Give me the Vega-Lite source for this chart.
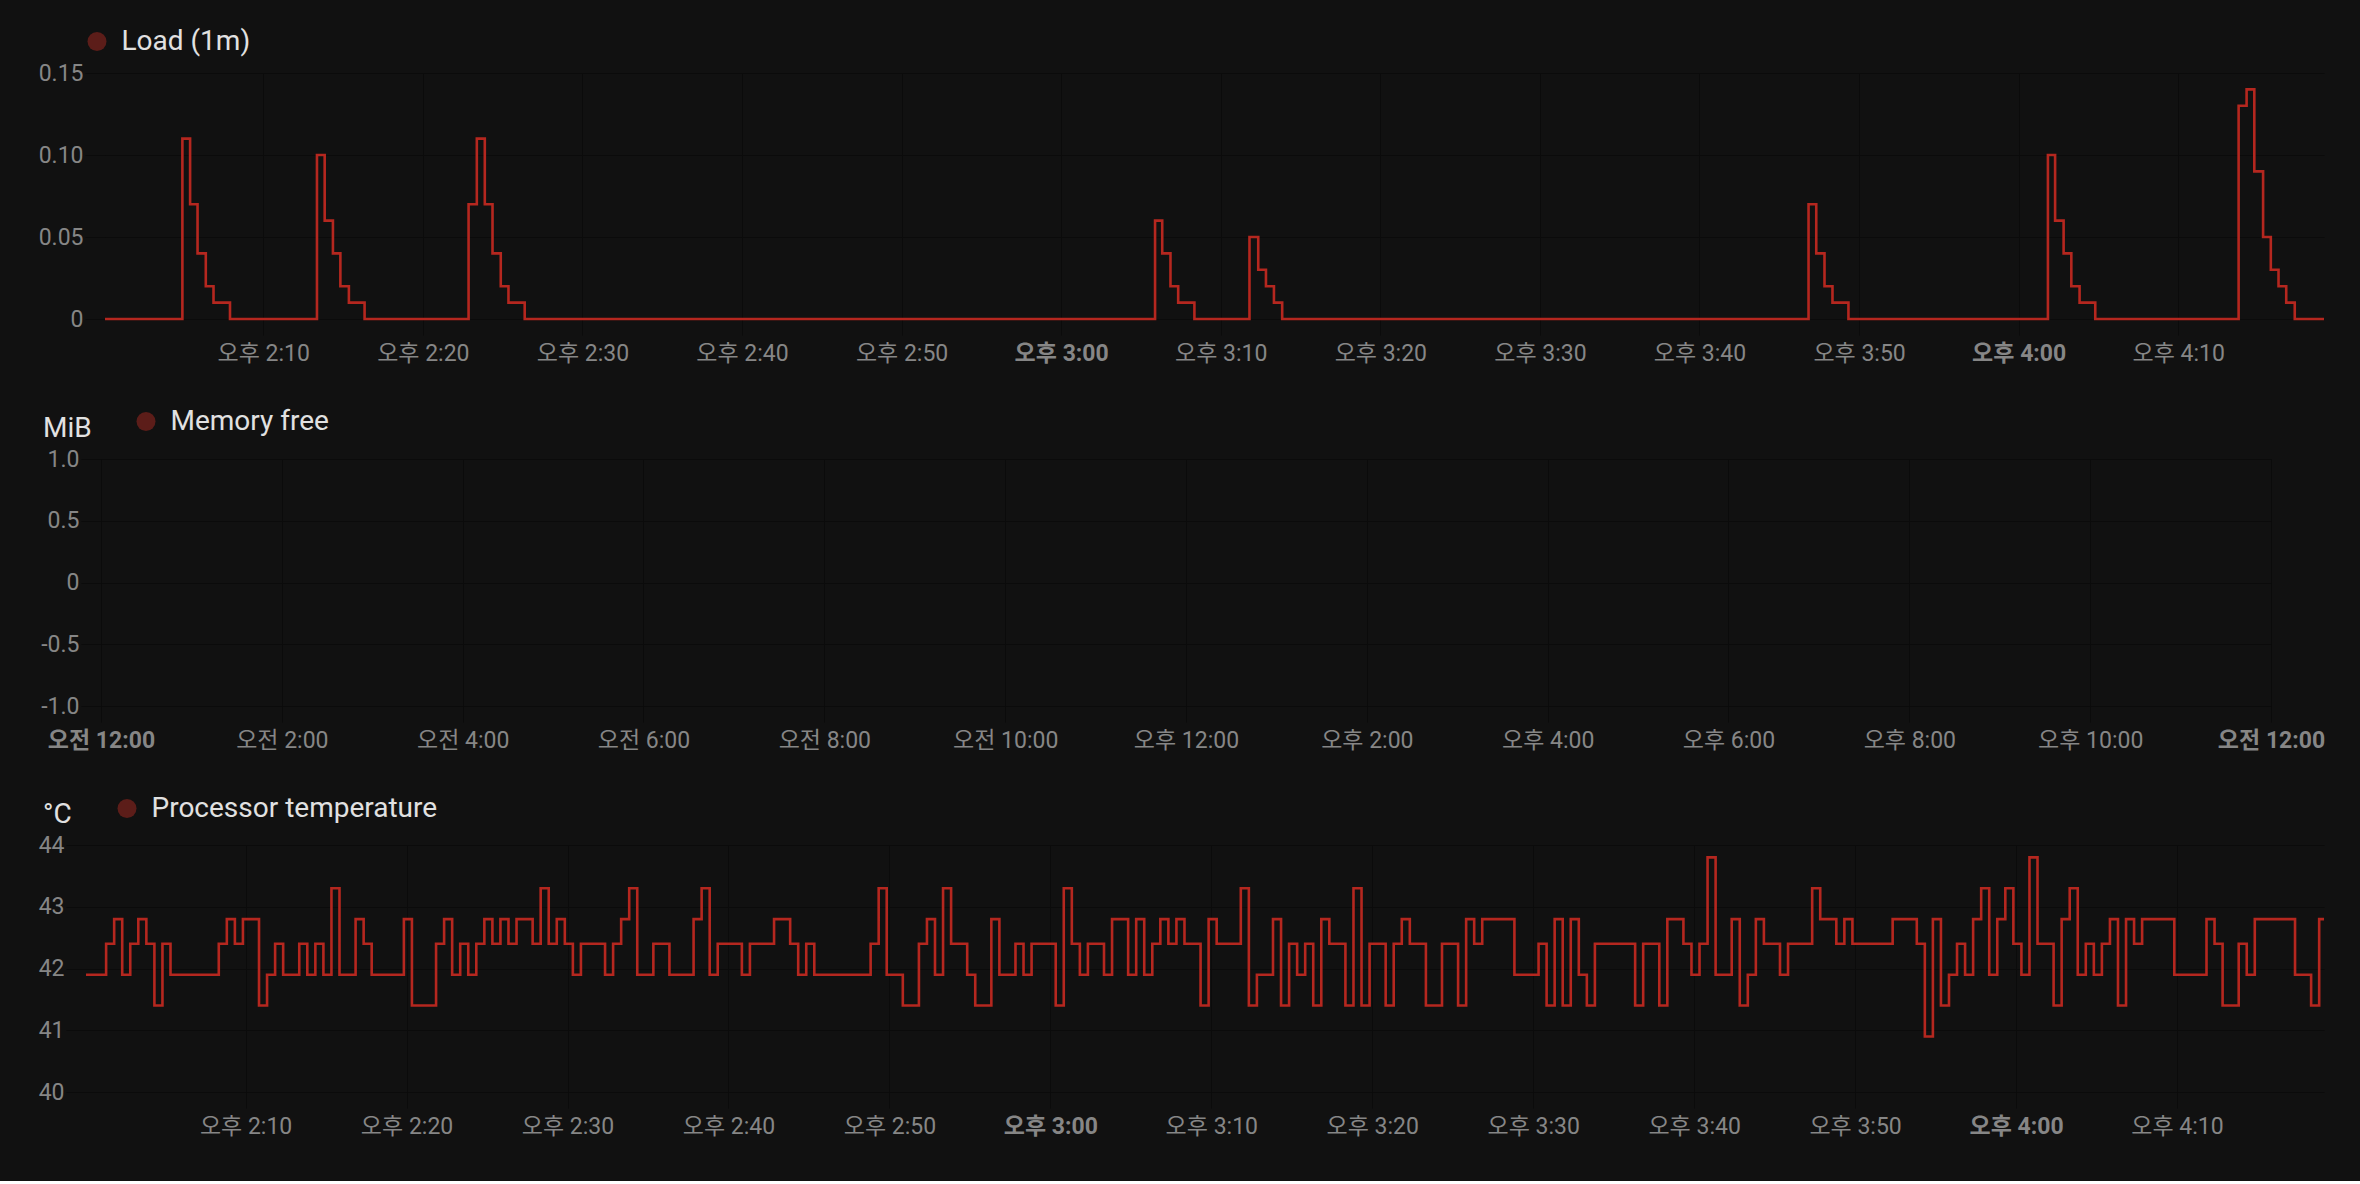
{
  "$schema": "https://vega.github.io/schema/vega-lite/v6.json",
  "background": "#111111",
  "padding": {"left": 38, "top": 27, "right": 36, "bottom": 43},
  "spacing": 42,
  "datasets": {
    "load": [
      {"t": "2024-01-01T14:00:05Z", "v": 0},
      {"t": "2024-01-01T14:04:56Z", "v": 0.11},
      {"t": "2024-01-01T14:05:25Z", "v": 0.07},
      {"t": "2024-01-01T14:05:53Z", "v": 0.04},
      {"t": "2024-01-01T14:06:24Z", "v": 0.02},
      {"t": "2024-01-01T14:06:53Z", "v": 0.01},
      {"t": "2024-01-01T14:07:55Z", "v": 0},
      {"t": "2024-01-01T14:13:22Z", "v": 0.10},
      {"t": "2024-01-01T14:13:51Z", "v": 0.06},
      {"t": "2024-01-01T14:14:22Z", "v": 0.04},
      {"t": "2024-01-01T14:14:50Z", "v": 0.02},
      {"t": "2024-01-01T14:15:22Z", "v": 0.01},
      {"t": "2024-01-01T14:16:21Z", "v": 0},
      {"t": "2024-01-01T14:22:52Z", "v": 0.07},
      {"t": "2024-01-01T14:23:23Z", "v": 0.11},
      {"t": "2024-01-01T14:23:53Z", "v": 0.07},
      {"t": "2024-01-01T14:24:22Z", "v": 0.04},
      {"t": "2024-01-01T14:24:53Z", "v": 0.02},
      {"t": "2024-01-01T14:25:22Z", "v": 0.01},
      {"t": "2024-01-01T14:26:23Z", "v": 0},
      {"t": "2024-01-01T15:05:53Z", "v": 0.06},
      {"t": "2024-01-01T15:06:20Z", "v": 0.04},
      {"t": "2024-01-01T15:06:51Z", "v": 0.02},
      {"t": "2024-01-01T15:07:20Z", "v": 0.01},
      {"t": "2024-01-01T15:08:21Z", "v": 0},
      {"t": "2024-01-01T15:11:48Z", "v": 0.05},
      {"t": "2024-01-01T15:12:21Z", "v": 0.03},
      {"t": "2024-01-01T15:12:50Z", "v": 0.02},
      {"t": "2024-01-01T15:13:20Z", "v": 0.01},
      {"t": "2024-01-01T15:13:51Z", "v": 0},
      {"t": "2024-01-01T15:46:50Z", "v": 0.07},
      {"t": "2024-01-01T15:47:19Z", "v": 0.04},
      {"t": "2024-01-01T15:47:50Z", "v": 0.02},
      {"t": "2024-01-01T15:48:20Z", "v": 0.01},
      {"t": "2024-01-01T15:49:20Z", "v": 0},
      {"t": "2024-01-01T16:01:50Z", "v": 0.10},
      {"t": "2024-01-01T16:02:17Z", "v": 0.06},
      {"t": "2024-01-01T16:02:49Z", "v": 0.04},
      {"t": "2024-01-01T16:03:18Z", "v": 0.02},
      {"t": "2024-01-01T16:03:49Z", "v": 0.01},
      {"t": "2024-01-01T16:04:48Z", "v": 0},
      {"t": "2024-01-01T16:13:47Z", "v": 0.13},
      {"t": "2024-01-01T16:14:17Z", "v": 0.14},
      {"t": "2024-01-01T16:14:46Z", "v": 0.09},
      {"t": "2024-01-01T16:15:19Z", "v": 0.05},
      {"t": "2024-01-01T16:15:48Z", "v": 0.03},
      {"t": "2024-01-01T16:16:17Z", "v": 0.02},
      {"t": "2024-01-01T16:16:46Z", "v": 0.01},
      {"t": "2024-01-01T16:17:18Z", "v": 0},
      {"t": "2024-01-01T16:19:08Z", "v": 0}
    ],
    "memory": [
      {"t": "2024-01-01T00:00:00Z", "v": null},
      {"t": "2024-01-02T00:00:00Z", "v": null}
    ],
    "temp": [
      {"t": "2024-01-01T14:00:05Z", "v": 41.9},
      {"t": "2024-01-01T14:01:20Z", "v": 42.4},
      {"t": "2024-01-01T14:01:50Z", "v": 42.8},
      {"t": "2024-01-01T14:02:20Z", "v": 41.9},
      {"t": "2024-01-01T14:02:50Z", "v": 42.4},
      {"t": "2024-01-01T14:03:20Z", "v": 42.8},
      {"t": "2024-01-01T14:03:50Z", "v": 42.4},
      {"t": "2024-01-01T14:04:20Z", "v": 41.4},
      {"t": "2024-01-01T14:04:50Z", "v": 42.4},
      {"t": "2024-01-01T14:05:20Z", "v": 41.9},
      {"t": "2024-01-01T14:08:20Z", "v": 42.4},
      {"t": "2024-01-01T14:08:50Z", "v": 42.8},
      {"t": "2024-01-01T14:09:20Z", "v": 42.4},
      {"t": "2024-01-01T14:09:50Z", "v": 42.8},
      {"t": "2024-01-01T14:10:50Z", "v": 41.4},
      {"t": "2024-01-01T14:11:20Z", "v": 41.9},
      {"t": "2024-01-01T14:11:50Z", "v": 42.4},
      {"t": "2024-01-01T14:12:20Z", "v": 41.9},
      {"t": "2024-01-01T14:13:20Z", "v": 42.4},
      {"t": "2024-01-01T14:13:50Z", "v": 41.9},
      {"t": "2024-01-01T14:14:20Z", "v": 42.4},
      {"t": "2024-01-01T14:14:50Z", "v": 41.9},
      {"t": "2024-01-01T14:15:20Z", "v": 43.3},
      {"t": "2024-01-01T14:15:50Z", "v": 41.9},
      {"t": "2024-01-01T14:16:50Z", "v": 42.8},
      {"t": "2024-01-01T14:17:20Z", "v": 42.4},
      {"t": "2024-01-01T14:17:50Z", "v": 41.9},
      {"t": "2024-01-01T14:19:50Z", "v": 42.8},
      {"t": "2024-01-01T14:20:20Z", "v": 41.4},
      {"t": "2024-01-01T14:21:50Z", "v": 42.4},
      {"t": "2024-01-01T14:22:20Z", "v": 42.8},
      {"t": "2024-01-01T14:22:50Z", "v": 41.9},
      {"t": "2024-01-01T14:23:20Z", "v": 42.4},
      {"t": "2024-01-01T14:23:50Z", "v": 41.9},
      {"t": "2024-01-01T14:24:20Z", "v": 42.4},
      {"t": "2024-01-01T14:24:50Z", "v": 42.8},
      {"t": "2024-01-01T14:25:20Z", "v": 42.4},
      {"t": "2024-01-01T14:25:50Z", "v": 42.8},
      {"t": "2024-01-01T14:26:20Z", "v": 42.4},
      {"t": "2024-01-01T14:26:50Z", "v": 42.8},
      {"t": "2024-01-01T14:27:50Z", "v": 42.4},
      {"t": "2024-01-01T14:28:20Z", "v": 43.3},
      {"t": "2024-01-01T14:28:50Z", "v": 42.4},
      {"t": "2024-01-01T14:29:20Z", "v": 42.8},
      {"t": "2024-01-01T14:29:50Z", "v": 42.4},
      {"t": "2024-01-01T14:30:20Z", "v": 41.9},
      {"t": "2024-01-01T14:30:50Z", "v": 42.4},
      {"t": "2024-01-01T14:32:20Z", "v": 41.9},
      {"t": "2024-01-01T14:32:50Z", "v": 42.4},
      {"t": "2024-01-01T14:33:20Z", "v": 42.8},
      {"t": "2024-01-01T14:33:50Z", "v": 43.3},
      {"t": "2024-01-01T14:34:20Z", "v": 41.9},
      {"t": "2024-01-01T14:35:20Z", "v": 42.4},
      {"t": "2024-01-01T14:36:20Z", "v": 41.9},
      {"t": "2024-01-01T14:37:50Z", "v": 42.8},
      {"t": "2024-01-01T14:38:20Z", "v": 43.3},
      {"t": "2024-01-01T14:38:50Z", "v": 41.9},
      {"t": "2024-01-01T14:39:20Z", "v": 42.4},
      {"t": "2024-01-01T14:40:50Z", "v": 41.9},
      {"t": "2024-01-01T14:41:20Z", "v": 42.4},
      {"t": "2024-01-01T14:42:50Z", "v": 42.8},
      {"t": "2024-01-01T14:43:50Z", "v": 42.4},
      {"t": "2024-01-01T14:44:20Z", "v": 41.9},
      {"t": "2024-01-01T14:44:50Z", "v": 42.4},
      {"t": "2024-01-01T14:45:20Z", "v": 41.9},
      {"t": "2024-01-01T14:48:50Z", "v": 42.4},
      {"t": "2024-01-01T14:49:20Z", "v": 43.3},
      {"t": "2024-01-01T14:49:50Z", "v": 41.9},
      {"t": "2024-01-01T14:50:50Z", "v": 41.4},
      {"t": "2024-01-01T14:51:50Z", "v": 42.4},
      {"t": "2024-01-01T14:52:20Z", "v": 42.8},
      {"t": "2024-01-01T14:52:50Z", "v": 41.9},
      {"t": "2024-01-01T14:53:20Z", "v": 43.3},
      {"t": "2024-01-01T14:53:50Z", "v": 42.4},
      {"t": "2024-01-01T14:54:50Z", "v": 41.9},
      {"t": "2024-01-01T14:55:20Z", "v": 41.4},
      {"t": "2024-01-01T14:56:20Z", "v": 42.8},
      {"t": "2024-01-01T14:56:50Z", "v": 41.9},
      {"t": "2024-01-01T14:57:50Z", "v": 42.4},
      {"t": "2024-01-01T14:58:20Z", "v": 41.9},
      {"t": "2024-01-01T14:58:50Z", "v": 42.4},
      {"t": "2024-01-01T15:00:20Z", "v": 41.4},
      {"t": "2024-01-01T15:00:50Z", "v": 43.3},
      {"t": "2024-01-01T15:01:20Z", "v": 42.4},
      {"t": "2024-01-01T15:01:50Z", "v": 41.9},
      {"t": "2024-01-01T15:02:20Z", "v": 42.4},
      {"t": "2024-01-01T15:03:20Z", "v": 41.9},
      {"t": "2024-01-01T15:03:50Z", "v": 42.8},
      {"t": "2024-01-01T15:04:50Z", "v": 41.9},
      {"t": "2024-01-01T15:05:20Z", "v": 42.8},
      {"t": "2024-01-01T15:05:50Z", "v": 41.9},
      {"t": "2024-01-01T15:06:20Z", "v": 42.4},
      {"t": "2024-01-01T15:06:50Z", "v": 42.8},
      {"t": "2024-01-01T15:07:20Z", "v": 42.4},
      {"t": "2024-01-01T15:07:50Z", "v": 42.8},
      {"t": "2024-01-01T15:08:20Z", "v": 42.4},
      {"t": "2024-01-01T15:09:20Z", "v": 41.4},
      {"t": "2024-01-01T15:09:50Z", "v": 42.8},
      {"t": "2024-01-01T15:10:20Z", "v": 42.4},
      {"t": "2024-01-01T15:11:50Z", "v": 43.3},
      {"t": "2024-01-01T15:12:20Z", "v": 41.4},
      {"t": "2024-01-01T15:12:50Z", "v": 41.9},
      {"t": "2024-01-01T15:13:50Z", "v": 42.8},
      {"t": "2024-01-01T15:14:20Z", "v": 41.4},
      {"t": "2024-01-01T15:14:50Z", "v": 42.4},
      {"t": "2024-01-01T15:15:20Z", "v": 41.9},
      {"t": "2024-01-01T15:15:50Z", "v": 42.4},
      {"t": "2024-01-01T15:16:20Z", "v": 41.4},
      {"t": "2024-01-01T15:16:50Z", "v": 42.8},
      {"t": "2024-01-01T15:17:20Z", "v": 42.4},
      {"t": "2024-01-01T15:18:20Z", "v": 41.4},
      {"t": "2024-01-01T15:18:50Z", "v": 43.3},
      {"t": "2024-01-01T15:19:20Z", "v": 41.4},
      {"t": "2024-01-01T15:19:50Z", "v": 42.4},
      {"t": "2024-01-01T15:20:50Z", "v": 41.4},
      {"t": "2024-01-01T15:21:20Z", "v": 42.4},
      {"t": "2024-01-01T15:21:50Z", "v": 42.8},
      {"t": "2024-01-01T15:22:20Z", "v": 42.4},
      {"t": "2024-01-01T15:23:20Z", "v": 41.4},
      {"t": "2024-01-01T15:24:20Z", "v": 42.4},
      {"t": "2024-01-01T15:25:20Z", "v": 41.4},
      {"t": "2024-01-01T15:25:50Z", "v": 42.8},
      {"t": "2024-01-01T15:26:20Z", "v": 42.4},
      {"t": "2024-01-01T15:26:50Z", "v": 42.8},
      {"t": "2024-01-01T15:28:50Z", "v": 41.9},
      {"t": "2024-01-01T15:30:20Z", "v": 42.4},
      {"t": "2024-01-01T15:30:50Z", "v": 41.4},
      {"t": "2024-01-01T15:31:20Z", "v": 42.8},
      {"t": "2024-01-01T15:31:50Z", "v": 41.4},
      {"t": "2024-01-01T15:32:20Z", "v": 42.8},
      {"t": "2024-01-01T15:32:50Z", "v": 41.9},
      {"t": "2024-01-01T15:33:20Z", "v": 41.4},
      {"t": "2024-01-01T15:33:50Z", "v": 42.4},
      {"t": "2024-01-01T15:36:20Z", "v": 41.4},
      {"t": "2024-01-01T15:36:50Z", "v": 42.4},
      {"t": "2024-01-01T15:37:50Z", "v": 41.4},
      {"t": "2024-01-01T15:38:20Z", "v": 42.8},
      {"t": "2024-01-01T15:39:20Z", "v": 42.4},
      {"t": "2024-01-01T15:39:50Z", "v": 41.9},
      {"t": "2024-01-01T15:40:20Z", "v": 42.4},
      {"t": "2024-01-01T15:40:50Z", "v": 43.8},
      {"t": "2024-01-01T15:41:20Z", "v": 41.9},
      {"t": "2024-01-01T15:42:20Z", "v": 42.8},
      {"t": "2024-01-01T15:42:50Z", "v": 41.4},
      {"t": "2024-01-01T15:43:20Z", "v": 41.9},
      {"t": "2024-01-01T15:43:50Z", "v": 42.8},
      {"t": "2024-01-01T15:44:20Z", "v": 42.4},
      {"t": "2024-01-01T15:45:20Z", "v": 41.9},
      {"t": "2024-01-01T15:45:50Z", "v": 42.4},
      {"t": "2024-01-01T15:47:20Z", "v": 43.3},
      {"t": "2024-01-01T15:47:50Z", "v": 42.8},
      {"t": "2024-01-01T15:48:50Z", "v": 42.4},
      {"t": "2024-01-01T15:49:20Z", "v": 42.8},
      {"t": "2024-01-01T15:49:50Z", "v": 42.4},
      {"t": "2024-01-01T15:52:20Z", "v": 42.8},
      {"t": "2024-01-01T15:53:50Z", "v": 42.4},
      {"t": "2024-01-01T15:54:20Z", "v": 40.9},
      {"t": "2024-01-01T15:54:50Z", "v": 42.8},
      {"t": "2024-01-01T15:55:20Z", "v": 41.4},
      {"t": "2024-01-01T15:55:50Z", "v": 41.9},
      {"t": "2024-01-01T15:56:20Z", "v": 42.4},
      {"t": "2024-01-01T15:56:50Z", "v": 41.9},
      {"t": "2024-01-01T15:57:20Z", "v": 42.8},
      {"t": "2024-01-01T15:57:50Z", "v": 43.3},
      {"t": "2024-01-01T15:58:20Z", "v": 41.9},
      {"t": "2024-01-01T15:58:50Z", "v": 42.8},
      {"t": "2024-01-01T15:59:20Z", "v": 43.3},
      {"t": "2024-01-01T15:59:50Z", "v": 42.4},
      {"t": "2024-01-01T16:00:20Z", "v": 41.9},
      {"t": "2024-01-01T16:00:50Z", "v": 43.8},
      {"t": "2024-01-01T16:01:20Z", "v": 42.4},
      {"t": "2024-01-01T16:02:20Z", "v": 41.4},
      {"t": "2024-01-01T16:02:50Z", "v": 42.8},
      {"t": "2024-01-01T16:03:20Z", "v": 43.3},
      {"t": "2024-01-01T16:03:50Z", "v": 41.9},
      {"t": "2024-01-01T16:04:20Z", "v": 42.4},
      {"t": "2024-01-01T16:04:50Z", "v": 41.9},
      {"t": "2024-01-01T16:05:20Z", "v": 42.4},
      {"t": "2024-01-01T16:05:50Z", "v": 42.8},
      {"t": "2024-01-01T16:06:20Z", "v": 41.4},
      {"t": "2024-01-01T16:06:50Z", "v": 42.8},
      {"t": "2024-01-01T16:07:20Z", "v": 42.4},
      {"t": "2024-01-01T16:07:50Z", "v": 42.8},
      {"t": "2024-01-01T16:09:50Z", "v": 41.9},
      {"t": "2024-01-01T16:11:50Z", "v": 42.8},
      {"t": "2024-01-01T16:12:20Z", "v": 42.4},
      {"t": "2024-01-01T16:12:50Z", "v": 41.4},
      {"t": "2024-01-01T16:13:50Z", "v": 42.4},
      {"t": "2024-01-01T16:14:20Z", "v": 41.9},
      {"t": "2024-01-01T16:14:50Z", "v": 42.8},
      {"t": "2024-01-01T16:17:20Z", "v": 41.9},
      {"t": "2024-01-01T16:18:20Z", "v": 41.4},
      {"t": "2024-01-01T16:18:50Z", "v": 42.8},
      {"t": "2024-01-01T16:19:08Z", "v": 42.8}
    ]
  },
  "vconcat": [
    {
      "width": 2238,
      "height": 246,
      "data": {"name": "load"},
      "encoding": {
        "x": {
          "field": "t", "type": "temporal", "title": null,
          "scale": {"type": "utc", "domain": [1704117533600, 1704125948000]},
          "axis": {
            "values": [1704118200000, 1704118800000, 1704119400000, 1704120000000, 1704120600000, 1704121200000, 1704121800000, 1704122400000, 1704123000000, 1704123600000, 1704124200000, 1704124800000, 1704125400000],
            "labelExpr": "(utchours(datum.value) < 12 ? '오전 ' : '오후 ') + ((utchours(datum.value) % 12) == 0 ? 12 : utchours(datum.value) % 12) + ':' + utcFormat(datum.value, '%M')",
            "labelFontWeight": {"condition": {"test": "utcminutes(datum.value) == 0", "value": "bold"}, "value": "normal"}
          }
        },
        "y": {
          "field": "v", "type": "quantitative", "title": null,
          "scale": {"domain": [0, 0.15], "nice": false},
          "axis": {"offset": -19, "values": [0, 0.05, 0.1, 0.15], "labelExpr": "datum.value == 0 ? '0' : format(datum.value, '.2f')"}
        }
      },
      "layer": [
        {"mark": {"type": "line", "interpolate": "step-after", "color": "#b5271f", "strokeWidth": 2.6}},
        {
          "transform": [{"filter": "false"}],
          "mark": {"type": "point", "filled": true},
          "encoding": {
            "color": {
              "datum": "Load (1m)", "type": "nominal",
              "scale": {"domain": ["Load (1m)"], "range": ["#7c221c"]},
              "legend": {"orient": "none", "legendX": -3, "legendY": -45.5}
            }
          }
        }
      ]
    },
    {
      "width": 2185,
      "height": 247,
      "data": {"name": "memory"},
      "encoding": {
        "x": {
          "field": "t", "type": "temporal", "title": null,
          "scale": {"type": "utc", "domain": [1704066603000, 1704153600000]},
          "axis": {
            "values": [1704067200000, 1704074400000, 1704081600000, 1704088800000, 1704096000000, 1704103200000, 1704110400000, 1704117600000, 1704124800000, 1704132000000, 1704139200000, 1704146400000, 1704153600000],
            "labelExpr": "(utchours(datum.value) < 12 ? '오전 ' : '오후 ') + ((utchours(datum.value) % 12) == 0 ? 12 : utchours(datum.value) % 12) + ':' + utcFormat(datum.value, '%M')",
            "labelFontWeight": {"condition": {"test": "utchours(datum.value) == 0", "value": "bold"}, "value": "normal"}
          }
        },
        "y": {
          "field": "v", "type": "quantitative",
          "scale": {"domain": [-1, 1], "nice": false},
          "axis": {
            "offset": -15,
            "values": [-1, -0.5, 0, 0.5, 1],
            "labelExpr": "datum.value == 0 ? '0' : replace(format(datum.value, '.1f'), '−', '-')",
            "title": "MiB", "titleAngle": 0, "titleAlign": "left", "titleBaseline": "middle", "titleX": -58.5, "titleY": -31
          }
        }
      },
      "layer": [
        {"mark": {"type": "line", "interpolate": "step-after", "color": "#b5271f", "strokeWidth": 2.6}},
        {
          "transform": [{"filter": "false"}],
          "mark": {"type": "point", "filled": true},
          "encoding": {
            "color": {
              "datum": "Memory free", "type": "nominal",
              "scale": {"domain": ["Memory free"], "range": ["#7c221c"]},
              "legend": {"orient": "none", "legendX": 46, "legendY": -51.5}
            }
          }
        }
      ]
    },
    {
      "width": 2238,
      "height": 247,
      "data": {"name": "temp"},
      "encoding": {
        "x": {
          "field": "t", "type": "temporal", "title": null,
          "scale": {"type": "utc", "domain": [1704117605000, 1704125948000]},
          "axis": {
            "values": [1704118200000, 1704118800000, 1704119400000, 1704120000000, 1704120600000, 1704121200000, 1704121800000, 1704122400000, 1704123000000, 1704123600000, 1704124200000, 1704124800000, 1704125400000],
            "labelExpr": "(utchours(datum.value) < 12 ? '오전 ' : '오후 ') + ((utchours(datum.value) % 12) == 0 ? 12 : utchours(datum.value) % 12) + ':' + utcFormat(datum.value, '%M')",
            "labelFontWeight": {"condition": {"test": "utcminutes(datum.value) == 0", "value": "bold"}, "value": "normal"}
          }
        },
        "y": {
          "field": "v", "type": "quantitative",
          "scale": {"domain": [40, 44], "nice": false},
          "axis": {
            "values": [40, 41, 42, 43, 44],
            "title": "°C", "titleAngle": 0, "titleAlign": "left", "titleBaseline": "middle", "titleX": -43.5, "titleY": -31
          }
        }
      },
      "layer": [
        {"mark": {"type": "line", "interpolate": "step-after", "color": "#b5271f", "strokeWidth": 2.6}},
        {
          "transform": [{"filter": "false"}],
          "mark": {"type": "point", "filled": true},
          "encoding": {
            "color": {
              "datum": "Processor temperature", "type": "nominal",
              "scale": {"domain": ["Processor temperature"], "range": ["#7c221c"]},
              "legend": {"orient": "none", "legendX": 27, "legendY": -50.5}
            }
          }
        }
      ]
    }
  ],
  "resolve": {"scale": {"color": "independent"}, "legend": {"color": "independent"}},
  "config": {
    "view": {"stroke": null},
    "axis": {
      "domain": false,
      "grid": true,
      "gridColor": "#0b0b0b",
      "gridWidth": 1,
      "tickColor": "#0b0b0b",
      "tickWidth": 1,
      "labelColor": "#868686",
      "labelFont": "Roboto, Noto Sans CJK KR, sans-serif",
      "labelFontSize": 23,
      "titleColor": "#e1e1e1",
      "titleFont": "Roboto",
      "titleFontSize": 28,
      "titleFontWeight": "normal"
    },
    "axisX": {"tickSize": 16, "labelPadding": 7, "labelFlush": false, "labelOverlap": false},
    "axisY": {"tickSize": 20, "labelPadding": 2},
    "legend": {
      "title": null,
      "padding": 0,
      "symbolType": "circle",
      "symbolSize": 361,
      "symbolStrokeWidth": 0,
      "labelFont": "Roboto",
      "labelFontSize": 28,
      "labelColor": "#e1e1e1",
      "labelOffset": 10.5,
      "labelLimit": 1000
    }
  }
}
